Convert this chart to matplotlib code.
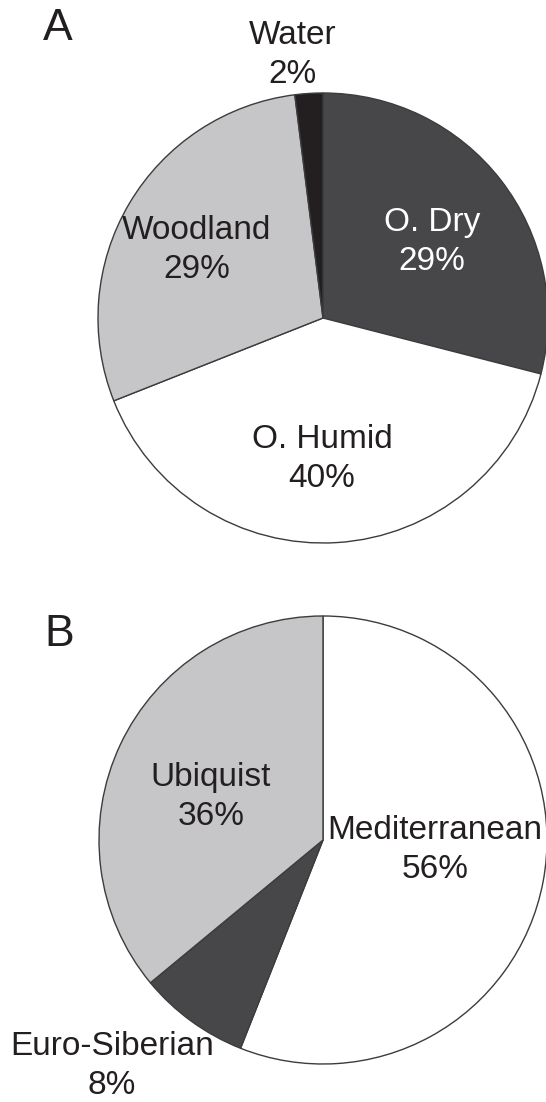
import matplotlib
matplotlib.use("Agg")
import matplotlib.pyplot as plt

plt.rcParams['font.family'] = ['Liberation Sans', 'DejaVu Sans']

# Panel A: habitat
a_labels = ["O. Dry", "O. Humid", "Woodland", "Water"]
a_values = [29, 40, 29, 2]
a_colors = ["#47474a", "#ffffff", "#c6c6c8", "#231f20"]
a_text_colors = ["#ffffff", "#231f20", "#231f20", "#231f20"]

# Panel B: chorotype
b_labels = ["Mediterranean", "Euro-Siberian", "Ubiquist"]
b_values = [56, 8, 36]
b_colors = ["#ffffff", "#47474a", "#c6c6c8"]
b_text_colors = ["#231f20", "#231f20", "#231f20"]

W, H = 546, 1102
fig = plt.figure(figsize=(W / 100, H / 100), dpi=100)
ax = fig.add_axes([0, 0, 1, 1])

centerA = (323, H - 318)
centerB = (323, H - 840)
RA, RB = 225, 224

wp = dict(edgecolor="#3c3c3c", linewidth=1.0)
ax.pie(a_values, colors=a_colors, startangle=90, counterclock=False,
       center=centerA, radius=RA, wedgeprops=wp, frame=True)
ax.pie(b_values, colors=b_colors, startangle=90, counterclock=False,
       center=centerB, radius=RB, wedgeprops=wp, frame=True)
ax.set_xlim(0, W)
ax.set_ylim(0, H)
ax.set_aspect('equal')
ax.axis('off')

fs = 24
ls = 1.3
# label text positions (pixel coords from top)
a_pos = [(432, 242), (322, 459), (197, 250), (293, 55)]
b_pos = [(435, 850), (112, 1066), (211, 797)]

for lab, v, (x, y), c in zip(a_labels, a_values, a_pos, a_text_colors):
    ax.text(x, H - y, f"{lab}\n{v}%", ha='center', va='center', fontsize=fs,
            color=c, linespacing=ls)
for lab, v, (x, y), c in zip(b_labels, b_values, b_pos, b_text_colors):
    ax.text(x, H - y, f"{lab}\n{v}%", ha='center', va='center', fontsize=fs,
            color=c, linespacing=ls)

ax.text(58, H - 29, "A", ha='center', va='center', fontsize=32, color='#231f20')
ax.text(59, H - 635, "B", ha='center', va='center', fontsize=32, color='#231f20')

fig.savefig("out.png", dpi=100, facecolor='white')
